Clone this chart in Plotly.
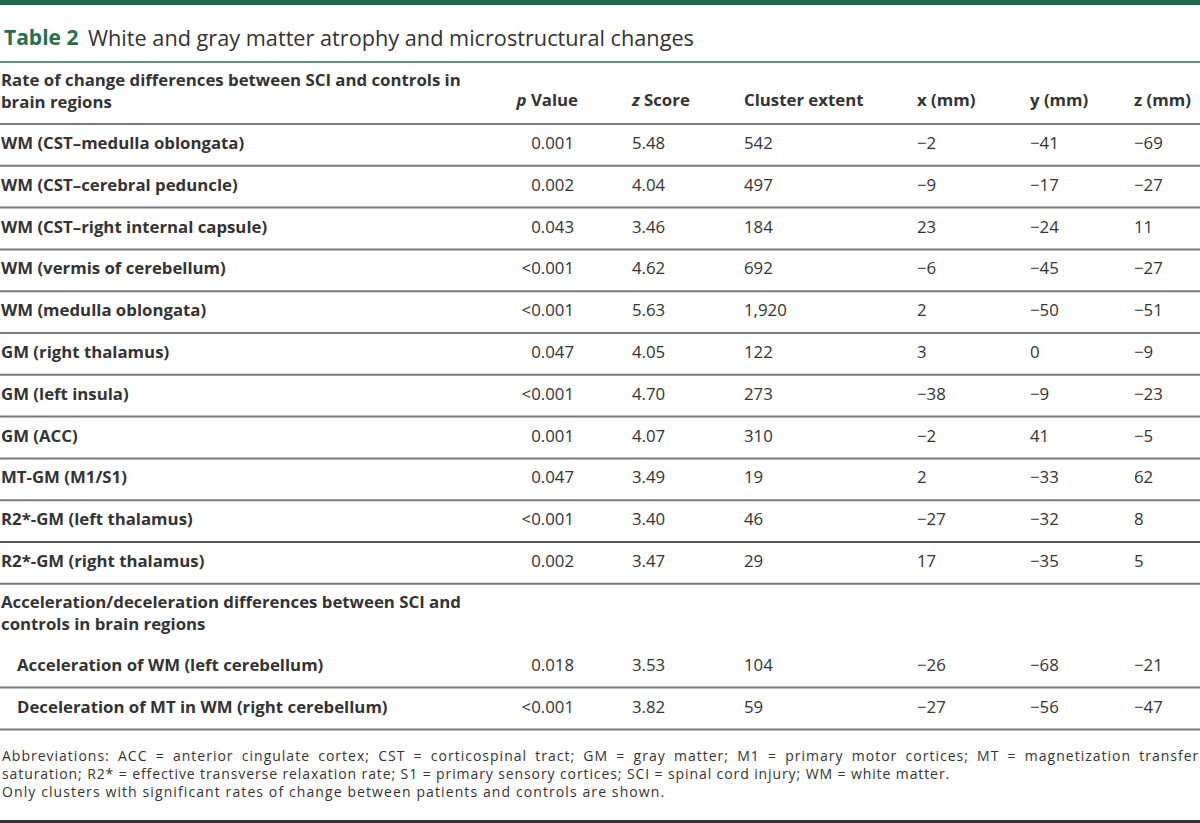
import plotly.graph_objects as go

# ---- table content ----
regions = [
    "WM (CST–medulla oblongata)",
    "WM (CST–cerebral peduncle)",
    "WM (CST–right internal capsule)",
    "WM (vermis of cerebellum)",
    "WM (medulla oblongata)",
    "GM (right thalamus)",
    "GM (left insula)",
    "GM (ACC)",
    "MT-GM (M1/S1)",
    "R2*-GM (left thalamus)",
    "R2*-GM (right thalamus)",
]
p_values = ["0.001", "0.002", "0.043", "<0.001", "<0.001", "0.047", "<0.001",
            "0.001", "0.047", "<0.001", "0.002"]
z_scores = ["5.48", "4.04", "3.46", "4.62", "5.63", "4.05", "4.70", "4.07",
            "3.49", "3.40", "3.47"]
cluster_extent = ["542", "497", "184", "692", "1,920", "122", "273", "310",
                  "19", "46", "29"]
x_mm = ["−2", "−9", "23", "−6", "2", "3", "−38", "−2", "2", "−27", "17"]
y_mm = ["−41", "−17", "−24", "−45", "−50", "0", "−9", "41", "−33", "−32", "−35"]
z_mm = ["−69", "−27", "11", "−27", "−51", "−9", "−23", "−5", "62", "8", "5"]

accel_regions = ["Acceleration of WM (left cerebellum)",
                 "Deceleration of MT in WM (right cerebellum)"]
accel_p = ["0.018", "<0.001"]
accel_z = ["3.53", "3.82"]
accel_cluster = ["104", "59"]
accel_x = ["−26", "−27"]
accel_y = ["−68", "−56"]
accel_z_mm = ["−21", "−47"]

section1 = "Rate of change differences between SCI and controls in<br>brain regions"
section2 = "Acceleration/deceleration differences between SCI and<br>controls in brain regions"
col_headers = ["<i>p</i> Value", "<i>z</i> Score", "Cluster extent", "x (mm)", "y (mm)", "z (mm)"]

title_tag = "Table 2"
title_text = "White and gray matter atrophy and microstructural changes"
footnote_lines = [
    "Abbreviations: ACC = anterior cingulate cortex; CST = corticospinal tract; GM = gray matter; "
    "M1 = primary motor cortices; MT = magnetization transfer",
    "saturation; R2* = effective transverse relaxation rate; S1 = primary sensory cortices; "
    "SCI = spinal cord injury; WM = white matter.",
    "Only clusters with significant rates of change between patients and controls are shown.",
]

# ---- layout geometry (pixel units on the axes) ----
W, H = 1200, 823
TXT = "#333333"
GREEN = "#23714f"
FONT = "Open Sans"
FS = 16.8

col_x = {"label": 1, "p": 574, "z": 632, "cl": 744, "x": 917, "y": 1030, "zz": 1134}
head_top, head_bot = 62, 124
row_h = 41.8
sec2_h = 62

rows_top = [head_bot + i * row_h for i in range(len(regions))]
sec2_top = head_bot + len(regions) * row_h
accel_top = [sec2_top + sec2_h + i * row_h for i in range(len(accel_regions))]

fig = go.Figure()


def text_col(xpos, ys, texts, pos, bold=False, size=FS):
    if bold:
        texts = ["<b>%s</b>" % t for t in texts]
    fig.add_trace(go.Scatter(
        x=[xpos] * len(ys), y=ys, mode="text", text=texts, textposition=pos,
        textfont=dict(family=FONT, size=size, color=TXT),
        hoverinfo="skip", showlegend=False,
    ))


mid = [t + row_h / 2 for t in rows_top]
amid = [t + row_h / 2 for t in accel_top]

# header
text_col(col_x["label"], [(head_top + head_bot) / 2], [section1], "middle right", bold=True)
hy = [102]
text_col(col_x["p"] + 4, hy, [col_headers[0]], "middle left", bold=True)
for key, h in zip(["z", "cl", "x", "y", "zz"], col_headers[1:]):
    text_col(col_x[key], hy, [h], "middle right", bold=True)

# main block
text_col(col_x["label"], mid, regions, "middle right", bold=True)
text_col(col_x["p"], mid, p_values, "middle left")
text_col(col_x["z"], mid, z_scores, "middle right")
text_col(col_x["cl"], mid, cluster_extent, "middle right")
text_col(col_x["x"], mid, x_mm, "middle right")
text_col(col_x["y"], mid, y_mm, "middle right")
text_col(col_x["zz"], mid, z_mm, "middle right")

# second section
text_col(col_x["label"], [sec2_top + sec2_h / 2], [section2], "middle right", bold=True)
text_col(col_x["label"] + 16, amid, accel_regions, "middle right", bold=True)
text_col(col_x["p"], amid, accel_p, "middle left")
text_col(col_x["z"], amid, accel_z, "middle right")
text_col(col_x["cl"], amid, accel_cluster, "middle right")
text_col(col_x["x"], amid, accel_x, "middle right")
text_col(col_x["y"], amid, accel_y, "middle right")
text_col(col_x["zz"], amid, accel_z_mm, "middle right")

# rules
shapes = [
    dict(type="rect", x0=0, x1=W, y0=0, y1=5, fillcolor="#1c6a4b", line_width=0),
    dict(type="line", x0=0, x1=W, y0=head_top, y1=head_top, line=dict(color=GREEN, width=1.5)),
]
row_lines = [head_bot] + [t + row_h for t in rows_top] + [t + row_h for t in accel_top]
for yl in row_lines:
    dark = abs(yl - rows_top[-1]) < 1
    shapes.append(dict(type="line", x0=0, x1=W, y0=yl, y1=yl,
                       line=dict(color="#555555" if dark else "#7a7a7a", width=2)))
shapes.append(dict(type="line", x0=0, x1=W, y0=H - 1.5, y1=H - 1.5,
                   line=dict(color="#333333", width=3)))

annotations = [
    dict(x=2, y=37, text="<b>%s</b>" % title_tag, xanchor="left", yanchor="middle",
         showarrow=False, font=dict(family=FONT, size=21, color=GREEN)),
    dict(x=86, y=37, text=title_text, xanchor="left", yanchor="middle",
         showarrow=False, font=dict(family=FONT, size=21.7, color=TXT)),
]
# footnote: first line justified to the full width
foot_styles = ["letter-spacing:1px;word-spacing:3.6px", "letter-spacing:0.9px", "letter-spacing:1.1px"]
for i, (line, st) in enumerate(zip(footnote_lines, foot_styles)):
    annotations.append(dict(
        x=0, y=755 + i * 18, text='<span style="%s">%s</span>' % (st, line),
        xanchor="left", yanchor="middle", align="left", showarrow=False,
        font=dict(family=FONT, size=14, color=TXT)))

fig.update_layout(
    width=W, height=H,
    margin=dict(l=0, r=0, t=0, b=0),
    paper_bgcolor="white", plot_bgcolor="white",
    xaxis=dict(range=[0, W], visible=False, fixedrange=True),
    yaxis=dict(range=[H, 0], visible=False, fixedrange=True),
    shapes=shapes, annotations=annotations,
)

fig.write_html("out.html", post_script="document.body.style.margin='0';",
               config={"displayModeBar": False})
